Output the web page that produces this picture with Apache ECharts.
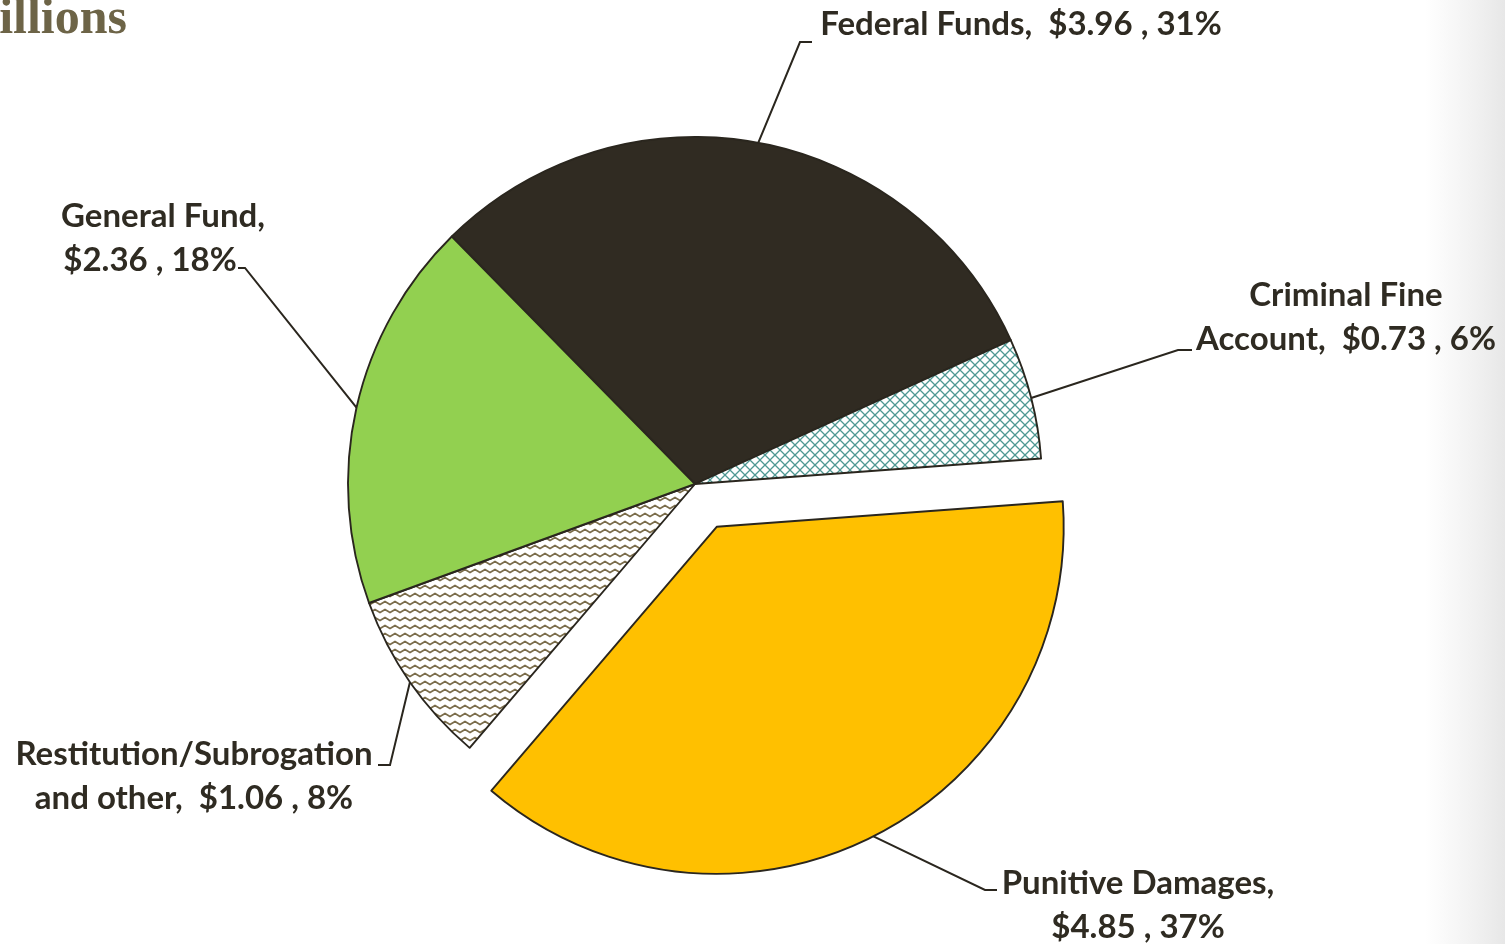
<!DOCTYPE html>
<html>
<head>
<meta charset="utf-8">
<script src="https://cdn.jsdelivr.net/npm/echarts@6/dist/echarts.min.js"></script>
<style>
  html, body { margin: 0; padding: 0; background: #ffffff; }
  #chart { width: 1505px; height: 944px; }
</style>
</head>
<body>
<div id="chart"></div>
<script>
// Revenue destinations, $ in millions
const categories = ['Federal Funds', 'Criminal Fine\nAccount', 'Punitive Damages', 'Restitution/Subrogation\nand other', 'General Fund'];
const values = [3.96, 0.73, 4.85, 1.06, 2.36];
// true where the amount is wrapped onto its own line
const amountOnNewLine = [false, false, true, false, true];
const explodedIndex = 2;

const pieCenter = [695, 484];
const pieRadius = 347;
const startAngle = 134.5;
const explodeDistance = 48;

function makePattern(w, h, draw) {
  const c = document.createElement('canvas');
  c.width = w; c.height = h;
  const g = c.getContext('2d');
  g.fillStyle = '#ffffff';
  g.fillRect(0, 0, w, h);
  draw(g);
  return { image: c, repeat: 'repeat' };
}

const crossHatch = makePattern(10, 10, g => {
  g.strokeStyle = '#4f9893';
  g.lineWidth = 1.3;
  g.beginPath();
  g.moveTo(-1, -1); g.lineTo(11, 11);
  g.moveTo(11, -1); g.lineTo(-1, 11);
  g.stroke();
});

const zigzag = makePattern(10, 8, g => {
  g.strokeStyle = '#7a6c4a';
  g.lineWidth = 1.8;
  g.beginPath();
  g.moveTo(-2.5, 6); g.lineTo(0, 4.5); g.lineTo(5, 1.5); g.lineTo(10, 4.5); g.lineTo(12.5, 3);
  g.stroke();
});

const fills = ['#302b22', crossHatch, '#ffc000', zigzag, '#92d050'];

// label anchor (centre of text block) and the bend of each leader line
const labelPlace = [
  { x: 1021, y: 24,  elbow: [800, 42],  end: [812, 42] },
  { x: 1346, y: 317, elbow: [1178, 350], end: [1192, 350] },
  { x: 1138, y: 905, elbow: [985, 890], end: [997, 890] },
  { x: 194,  y: 776, elbow: [390, 765], end: [378, 765] },
  { x: 163,  y: 238, elbow: [245, 268], end: [238, 268] }
];

// shift the exploded slice outward along its bisector
const total = values.reduce((a, b) => a + b, 0);
const before = values.slice(0, explodedIndex).reduce((a, b) => a + b, 0);
const midAngle = (startAngle - (before + values[explodedIndex] / 2) / total * 360) * Math.PI / 180;
const explodedCenter = [
  pieCenter[0] + Math.cos(midAngle) * explodeDistance,
  pieCenter[1] - Math.sin(midAngle) * explodeDistance
];

const textColor = '#2f2b22';
const lineColor = '#2a261e';
const labelFont = { color: textColor, fontFamily: 'Lato, "Noto Sans", sans-serif', fontWeight: 'bold', fontSize: 33, lineHeight: 44 };

function labelText(p) {
  const i = p.dataIndex;
  const amount = '$' + values[i].toFixed(2) + ' , ' + p.percent + '%';
  const head = p.name + ',';
  if (i === 4) {
    return '{t|' + head + '}\n{s|' + amount + '}';
  }
  return (head + (amountOnNewLine[i] ? '\n' : '  ') + amount)
    .split('\n').map(s => '{t|' + s + '}').join('\n');
}

function placeLabel(p) {
  const L = labelPlace[p.dataIndex];
  const pts = p.labelLinePoints;
  const out = { x: L.x, y: L.y, align: 'center', verticalAlign: 'middle' };
  if (pts && pts.length) out.labelLinePoints = [pts[0], L.elbow, L.end];
  return out;
}

function pieSeries(center, visible) {
  return {
    type: 'pie',
    center: center,
    radius: pieRadius,
    startAngle: startAngle,
    clockwise: true,
    percentPrecision: 0,
    avoidLabelOverlap: false,
    emphasis: { disabled: true, scale: false },
    itemStyle: { borderColor: lineColor, borderWidth: 1.9 },
    label: {
      show: true,
      position: 'outside',
      ...labelFont,
      align: 'center',
      formatter: labelText,
      rich: {
        t: { ...labelFont },
        s: { ...labelFont, padding: [0, 26, 0, 0] }
      }
    },
    labelLine: { show: true, lineStyle: { color: lineColor, width: 2 } },
    labelLayout: placeLabel,
    data: categories.map((name, i) => {
      const shown = visible(i);
      return {
        name: name,
        value: values[i],
        itemStyle: shown ? { color: fills[i] } : { color: 'transparent', borderWidth: 0 },
        label: { show: shown },
        labelLine: { show: shown }
      };
    })
  };
}

const chart = echarts.init(document.getElementById('chart'), null, { renderer: 'canvas' });

chart.setOption({
  animation: false,
  backgroundColor: '#ffffff',
  graphic: [
    {
      type: 'rect',
      shape: { x: 1425, y: 0, width: 80, height: 944 },
      style: {
        fill: new echarts.graphic.LinearGradient(0, 0, 1, 0, [
          { offset: 0, color: 'rgba(230,230,230,0)' },
          { offset: 1, color: 'rgba(225,225,225,0.8)' }
        ])
      },
      silent: true,
      z: -10
    },
    {
      type: 'text',
      x: -48,
      y: -5,
      style: {
        text: 'Millions',
        font: 'bold 50px "Liberation Serif", serif',
        fill: '#6d6447',
        textVerticalAlign: 'top'
      },
      silent: true
    }
  ],
  series: [
    pieSeries(pieCenter, i => i !== explodedIndex),
    pieSeries(explodedCenter, i => i === explodedIndex)
  ]
});
</script>
</body>
</html>
